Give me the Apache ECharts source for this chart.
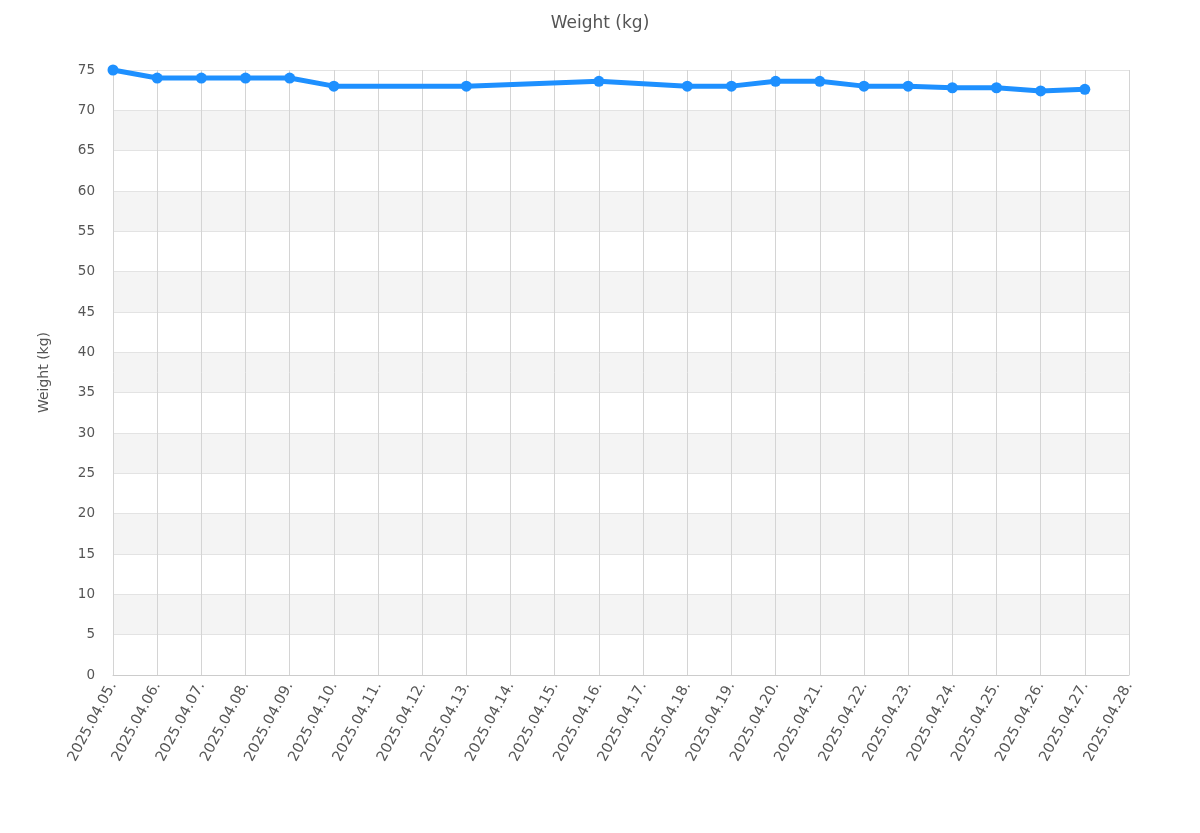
<!DOCTYPE html><html><head><meta charset="utf-8"><script src="https://cdn.jsdelivr.net/npm/echarts@6/dist/echarts.min.js"></script>
<style>html,body{margin:0;background:#fff}#c{width:1200px;height:833px}</style></head><body><div id="c"></div><script>
const categories=['2025.04.05.','2025.04.06.','2025.04.07.','2025.04.08.','2025.04.09.','2025.04.10.','2025.04.11.','2025.04.12.','2025.04.13.','2025.04.14.','2025.04.15.','2025.04.16.','2025.04.17.','2025.04.18.','2025.04.19.','2025.04.20.','2025.04.21.','2025.04.22.','2025.04.23.','2025.04.24.','2025.04.25.','2025.04.26.','2025.04.27.','2025.04.28.'];
const weight=[75,74,74,74,74,73,null,null,73,null,null,73.6,null,73,73,73.6,73.6,73,73,72.8,72.8,72.4,72.6,null];
const chart=echarts.init(document.getElementById('c'));
chart.setOption({
 title:{text:'Weight (kg)',left:'center',top:10,textStyle:{fontFamily:'DejaVu Sans',fontSize:17,fontWeight:'normal',color:'#555'}},
 grid:{left:113,right:71,top:70,bottom:158},
 xAxis:{type:'category',data:categories,boundaryGap:false,
  axisLine:{lineStyle:{color:'#ccc'}},axisTick:{show:false},
  axisLabel:{rotate:62,interval:0,color:'#555',fontFamily:'DejaVu Sans',fontSize:14.5,margin:8},
  splitLine:{show:true,lineStyle:{color:'#d4d4d4'}}},
 yAxis:{type:'value',min:0,max:75,interval:5,name:'Weight (kg)',nameLocation:'middle',nameGap:62,
  nameTextStyle:{color:'#555',fontFamily:'DejaVu Sans',fontSize:14},
  axisLine:{show:false},axisTick:{show:false},
  axisLabel:{color:'#555',fontFamily:'DejaVu Sans',fontSize:13.5,margin:18},
  splitLine:{lineStyle:{color:'#e3e3e3'}},
  splitArea:{show:true,areaStyle:{color:['#ffffff','#f4f4f4']}}},
 series:[{type:'line',data:weight,connectNulls:true,symbol:'circle',symbolSize:11,
  lineStyle:{width:5,color:'#1e90ff'},itemStyle:{color:'#1e90ff'}}]
});
</script></body></html>
